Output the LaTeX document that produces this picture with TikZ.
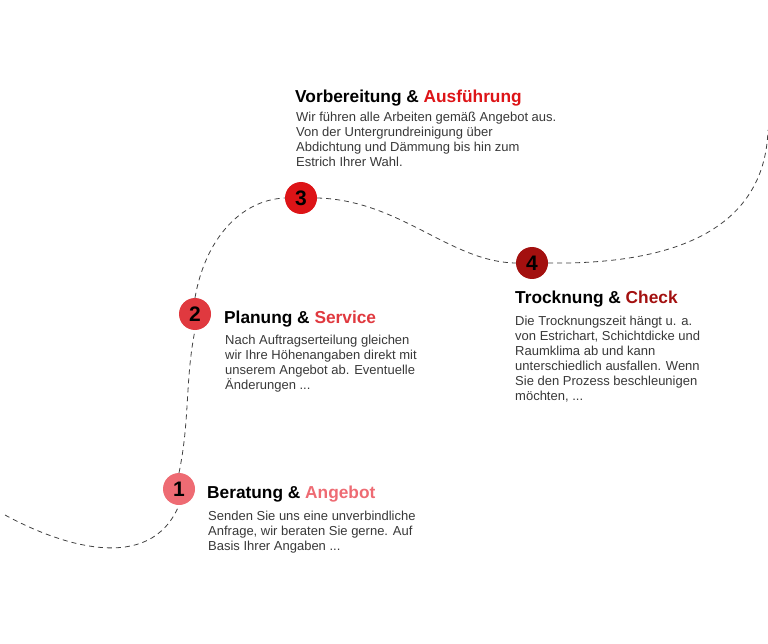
\documentclass[tikz,border=0pt]{standalone}
\usepackage{fontspec}
\setmainfont{Liberation Sans}
\begin{document}
\begin{tikzpicture}[x=1pt,y=-1pt,
  num/.style={circle,minimum size=32pt,inner sep=0pt,font=\bfseries\fontsize{21}{21}\selectfont,text=black},
  ttl/.style={anchor=base west,inner sep=0pt,font=\bfseries\fontsize{17.3}{19}\selectfont},
  bdy/.style={anchor=north west,inner sep=0pt,align=left,text=black!78,font=\fontsize{13}{15}\selectfont},
  path/.style={dashed,black!75,line width=0.8pt,dash pattern=on 5pt off 4pt}]
\useasboundingbox (0,0) rectangle (768,644);
\definecolor{c1}{HTML}{EE6B73}\definecolor{c2}{HTML}{E0393F}
\definecolor{c3}{HTML}{DD1417}\definecolor{c4}{HTML}{A3100F}
\node[num,fill=c1] (n1) at (179,489) {1};
\node[num,fill=c2] (n2) at (195,314) {2};
\node[num,fill=c3] (n3) at (301,198) {3};
\node[num,fill=c4] (n4) at (532,263) {4};
\coordinate (s) at (5,515);
\coordinate (e) at (768,130);
\draw[path] (s) .. controls (60,545) and (150,575) .. (n1.south);
\draw[path] (n1.north) .. controls (190,420) and (185,380) .. (n2.south);
\draw[path] (n2.north) .. controls (205,240) and (240,200) .. (n3.west);
\draw[path] (n3.east) .. controls (400,200) and (450,262) .. (n4.west);
\draw[path] (n4.east) .. controls (690,265) and (765,220) .. (e);
\node[ttl] (t1) at (207,498) {Beratung \& \textcolor{c1}{Angebot}};
\node[bdy] (b1) at (208,511) {Senden Sie uns eine unverbindliche\\Anfrage, wir beraten Sie gerne. Auf\\Basis Ihrer Angaben ...};
\node[ttl] (t2) at (224,323) {Planung \& \textcolor{c2}{Service}};
\node[bdy] (b2) at (225,335) {Nach Auftragserteilung gleichen\\wir Ihre Höhenangaben direkt mit\\unserem Angebot ab. Eventuelle\\Änderungen ...};
\node[ttl] (t3) at (295,103) {Vorbereitung \& \textcolor{c3}{Ausführung}};
\node[bdy] (b3) at (296,112) {Wir führen alle Arbeiten gemäß Angebot aus.\\Von der Untergrundreinigung über\\Abdichtung und Dämmung bis hin zum\\Estrich Ihrer Wahl.};
\node[ttl] (t4) at (515,303) {Trocknung \& \textcolor{c4}{Check}};
\node[bdy] (b4) at (515,316) {Die Trocknungszeit hängt u. a.\\von Estrichart, Schichtdicke und\\Raumklima ab und kann\\unterschiedlich ausfallen. Wenn\\Sie den Prozess beschleunigen\\möchten, ...};
\end{tikzpicture}
\end{document}
